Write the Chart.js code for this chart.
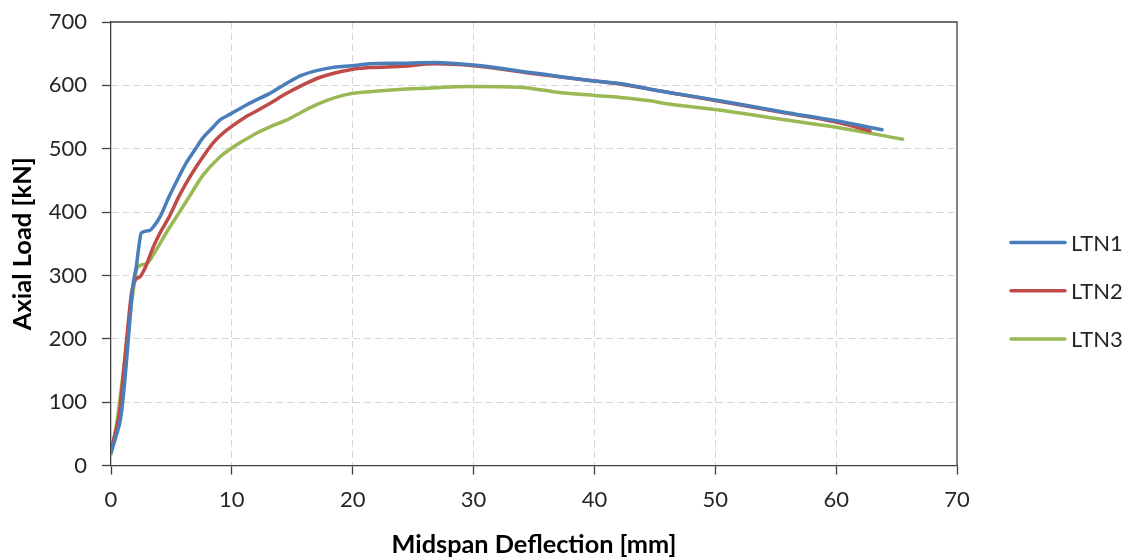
<!DOCTYPE html>
<html>
<head>
<meta charset="utf-8">
<script src="https://cdn.jsdelivr.net/npm/chart.js@4/dist/chart.umd.min.js"></script>
<style>
  html, body { margin: 0; padding: 0; background: #ffffff; }
  #wrap { width: 1132px; height: 557px; position: relative; }
</style>
</head>
<body>
<div id="wrap"><canvas id="c" width="1132" height="557"></canvas></div>
<script>
// ---- data ----
const seriesNames = ["LTN1", "LTN2", "LTN3"];
const xTicks = [0, 10, 20, 30, 40, 50, 60, 70];
const yTicks = [0, 100, 200, 300, 400, 500, 600, 700];

// [deflection mm, axial load kN]
const ltn1 = [[0,20],[0.4,45],[0.8,75],[1.1,125],[1.5,215],[1.8,282],[2.1,315],[2.3,345],[2.5,367],[3.2,371],[3.6,379],[4.1,394],[4.8,424],[5.6,455],[6.2,477],[7.0,500],[7.6,517],[8.4,533],[9.0,545],[9.9,555],[11.2,569],[11.7,574],[13.1,587],[14.5,603],[15.8,616],[17.2,624],[18.6,629],[19.9,631],[21.4,634],[24,635],[26.8,636],[30,632],[35.2,619],[40,607],[42.1,603],[44.6,594],[50,577],[55.6,558],[60,544],[63.8,530]];
const ltn2 = [[0,25],[0.4,55],[0.7,83],[1.0,140],[1.3,200],[1.7,272],[2.1,295],[2.35,297],[2.8,311],[3.5,345],[4.0,365],[4.8,392],[5.6,424],[6.2,445],[7.0,470],[7.6,487],[8.4,508],[9.0,520],[9.9,534],[11.2,551],[11.7,556],[13.1,571],[14.5,587],[15.8,600],[17.2,612],[18.6,620],[19.9,625],[21.4,628],[24,630],[26.8,634],[30,631],[35.2,618],[40,607],[42.1,602],[44.6,594],[50,576],[55.6,557],[60,542],[62.8,528]];
const ltn3 = [[0,18],[0.5,70],[1.0,145],[1.4,210],[1.8,271],[2.2,313],[2.9,318],[3.7,339],[4.5,365],[5.4,392],[6.5,425],[7.6,458],[9.0,487],[9.9,500],[11.7,521],[13.1,534],[14.5,545],[15.8,558],[17.2,571],[18.6,581],[19.9,587],[21.4,590],[23.5,593],[25.5,595],[30,598],[33.8,597],[35.2,594],[36.6,590],[40,584],[42.1,581],[44.5,576],[46,571],[50,562],[55.6,546],[60,534],[65.5,515]];

const seriesColors = ["#4a7ebb", "#be4b48", "#98b954"];

const toPts = arr => arr.map(p => ({x: p[0], y: p[1]}));

const FONT = "Lato, 'Open Sans', 'DejaVu Sans', sans-serif";
const AXIS_COLOR = "#404040";
const GRID_COLOR = "#d6d6d6";

const frame = {
  id: 'frame',
  beforeDatasetsDraw(chart) {
    const a = chart.chartArea, ctx = chart.ctx;
    ctx.save();
    ctx.strokeStyle = AXIS_COLOR;
    ctx.lineWidth = 1.3;
    ctx.beginPath();
    ctx.moveTo(a.left, a.top);
    ctx.lineTo(a.right, a.top);
    ctx.lineTo(a.right, a.bottom);
    ctx.stroke();
    ctx.restore();
  }
};

const sideLegend = {
  id: 'sideLegend',
  afterDraw(chart) {
    const a = chart.chartArea, ctx = chart.ctx;
    ctx.save();
    const x0 = a.right + 54, x1 = a.right + 108;
    const yStart = 242.5, gap = 48.3;
    ctx.font = "22px " + FONT;
    ctx.textBaseline = 'middle';
    ctx.textAlign = 'left';
    chart.data.datasets.forEach((ds, i) => {
      const y = yStart + i * gap;
      ctx.strokeStyle = ds.borderColor;
      ctx.lineWidth = ds.borderWidth;
      ctx.lineCap = 'round';
      ctx.beginPath();
      ctx.moveTo(x0, y);
      ctx.lineTo(x1, y);
      ctx.stroke();
      ctx.fillStyle = "#262626";
      ctx.fillText(ds.label, x1 + 6, y + 1);
    });
    ctx.restore();
  }
};

const gridCommon = {
  lineWidth: 1,
  tickColor: AXIS_COLOR,
  tickWidth: 1.3,
  tickLength: 9,
  tickBorderDash: [],
  drawTicks: true
};

new Chart(document.getElementById('c'), {
  type: 'line',
  data: {
    datasets: [ltn1, ltn2, ltn3].map((d, i) => ({
      label: seriesNames[i],
      data: toPts(d),
      borderColor: seriesColors[i],
      backgroundColor: seriesColors[i],
      borderWidth: 3.5,
      pointRadius: 0,
      fill: false,
      cubicInterpolationMode: 'monotone',
      borderCapStyle: 'round',
      borderJoinStyle: 'round'
    }))
  },
  options: {
    responsive: false,
    animation: false,
    layout: { padding: { top: 22, right: 175, left: 0, bottom: 0 } },
    plugins: { legend: { display: false }, tooltip: { enabled: false } },
    scales: {
      x: {
        type: 'linear',
        min: 0, max: 70,
        afterBuildTicks(scale) { scale.ticks = xTicks.map(v => ({value: v})); },
        afterFit(scale) { scale.height = 91.5; scale.paddingLeft = 0; scale.paddingRight = 0; },
        grid: Object.assign({}, gridCommon, {
          color: ctx => (ctx.tick && (ctx.tick.value === 0 || ctx.tick.value === 70)) ? 'rgba(0,0,0,0)' : GRID_COLOR
        }),
        border: { display: true, color: AXIS_COLOR, width: 1.3, dash: [7, 4] },
        ticks: { font: { family: FONT, size: 22 }, color: "#262626", padding: 12, maxRotation: 0 },
        title: { display: true, text: "Midspan Deflection [mm]", font: { family: FONT, size: 25.3, weight: 'bold', lineHeight: 1 }, color: "#000000", padding: { top: 0, bottom: 0 } }
      },
      y: {
        type: 'linear',
        min: 0, max: 700,
        afterBuildTicks(scale) { scale.ticks = yTicks.map(v => ({value: v})); },
        afterFit(scale) { scale.width = 111; scale.paddingTop = 0; scale.paddingBottom = 0; },
        grid: Object.assign({}, gridCommon, {
          color: ctx => (ctx.tick && (ctx.tick.value === 0 || ctx.tick.value === 700)) ? 'rgba(0,0,0,0)' : GRID_COLOR
        }),
        border: { display: true, color: AXIS_COLOR, width: 1.3, dash: [7, 4] },
        ticks: { font: { family: FONT, size: 22 }, color: "#262626", padding: 15 },
        title: { display: true, text: "Axial Load [kN]", font: { family: FONT, size: 25.5, weight: 'bold', lineHeight: 1 }, color: "#000000", padding: { top: 10.5, bottom: 0 } }
      }
    }
  },
  plugins: [frame, sideLegend]
});
</script>
</body>
</html>
